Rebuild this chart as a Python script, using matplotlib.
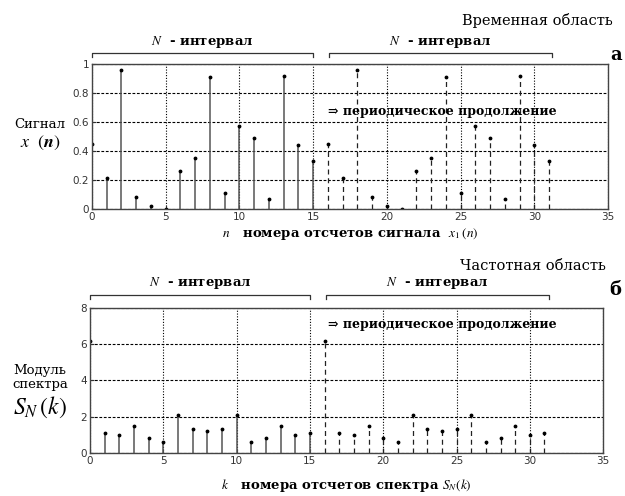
import numpy as np
import matplotlib.pyplot as plt
import matplotlib.transforms as mtransforms

# signal samples on one N-interval (N = 16)
x_n = [0.45, 0.21, 0.96, 0.08, 0.02, 0.0, 0.26, 0.35,
       0.91, 0.11, 0.57, 0.49, 0.07, 0.92, 0.44, 0.33]
# spectrum modulus on one N-interval
s_k = [6.2, 1.1, 1.0, 1.5, 0.8, 0.6, 2.1, 1.3,
       1.2, 1.3, 2.1, 0.6, 0.8, 1.5, 1.0, 1.1]
N = len(x_n)
idx1 = np.arange(N)
idx2 = np.arange(N, 2 * N)

plt.rcParams['font.family'] = ['DejaVu Serif']
plt.rcParams['mathtext.fontset'] = 'stix'

fig = plt.figure(figsize=(6.25, 4.96), dpi=100)
ax1 = fig.add_axes([0.147, 0.579, 0.826, 0.292])
ax2 = fig.add_axes([0.144, 0.087, 0.821, 0.292])


def draw_stems(ax, vals):
    m, s, b = ax.stem(idx1, vals, linefmt='-', markerfmt='.', basefmt=' ')
    s.set_color('#555555')
    s.set_linewidth(1.1)
    m.set_color('black')
    m.set_markersize(3.5)
    m, s, b = ax.stem(idx2, vals, linefmt='--', markerfmt='.', basefmt=' ')
    s.set_color('#222222')
    s.set_linewidth(0.9)
    s.set_linestyle((0, (4, 3)))
    m.set_color('black')
    m.set_markersize(3.5)


def style_axes(ax):
    ax.set_xlim(0, 35)
    ax.set_xticks([0, 5, 10, 15, 20, 25, 30, 35])
    ax.grid(True, axis='x', color='black', linestyle=(0, (1, 1.5)), linewidth=0.8)
    ax.grid(True, axis='y', color='black', linestyle=(0, (2.5, 1.5)), linewidth=0.8)
    ax.tick_params(direction='in', length=3, labelsize=7.5, colors='#333333', pad=2)
    for lab in ax.get_xticklabels() + ax.get_yticklabels():
        lab.set_family('DejaVu Sans')
    for sp in ax.spines.values():
        sp.set_color('#444444')
        sp.set_linewidth(1.0)


def bracket(ax, x0, x1, y, text_y):
    tr = mtransforms.blended_transform_factory(ax.transData, ax.transAxes)
    ax.plot([x0, x0, x1, x1], [y - 0.03, y, y, y - 0.03], color='#333333',
            lw=0.9, transform=tr, clip_on=False)
    ax.text((x0 + x1) / 2, text_y, r'$N$  - интервал', transform=tr,
            ha='center', va='center', fontsize=9.5, fontweight='bold')


# top: time domain
draw_stems(ax1, x_n)
ax1.set_ylim(0, 1)
ax1.set_yticks([0, 0.2, 0.4, 0.6, 0.8, 1])
ax1.set_yticklabels(['0', '0.2', '0.4', '0.6', '0.8', '1'])
style_axes(ax1)
bracket(ax1, 0, 15, 1.076, 1.15)
bracket(ax1, 16.1, 31.2, 1.076, 1.15)
ax1.text(16, 0.67, '⇒ периодическое продолжение', fontsize=9,
         fontweight='bold', ha='left', va='center')
ax1.set_xlabel(r'$n$   номера отсчетов сигнала  $x_1\,(n)$', fontsize=9.5,
               fontweight='bold', labelpad=3)
fig.text(0.064, 0.748, 'Сигнал', fontsize=9.5, ha='center', va='center')
fig.text(0.064, 0.711, r'$x\ \ (\boldsymbol{n})$', fontsize=13, ha='center', va='center')
fig.text(0.98, 0.958, 'Временная область', fontsize=10.5, ha='right', va='center')
fig.text(0.985, 0.889, 'а', fontsize=13, fontweight='bold', ha='center', va='center')

# bottom: frequency domain
draw_stems(ax2, s_k)
ax2.set_ylim(0, 8)
ax2.set_yticks([0, 2, 4, 6, 8])
style_axes(ax2)
bracket(ax2, 0, 15, 1.09, 1.17)
bracket(ax2, 16.1, 31.3, 1.09, 1.17)
ax2.text(16.2, 7.1, '⇒ периодическое продолжение', fontsize=9,
         fontweight='bold', ha='left', va='center')
ax2.set_xlabel(r'$k$   номера отсчетов спектра $S_N(k)$', fontsize=9.5,
               fontweight='bold', labelpad=8)
fig.text(0.064, 0.254, 'Модуль', fontsize=9.5, ha='center', va='center')
fig.text(0.064, 0.224, 'спектра', fontsize=9.5, ha='center', va='center')
fig.text(0.064, 0.178, r'$S_N\,(k)$', fontsize=17, ha='center', va='center')
fig.text(0.97, 0.464, 'Частотная область', fontsize=10.5, ha='right', va='center')
fig.text(0.985, 0.415, 'б', fontsize=13, fontweight='bold', ha='center', va='center')

fig.savefig('out.png', dpi=100)
